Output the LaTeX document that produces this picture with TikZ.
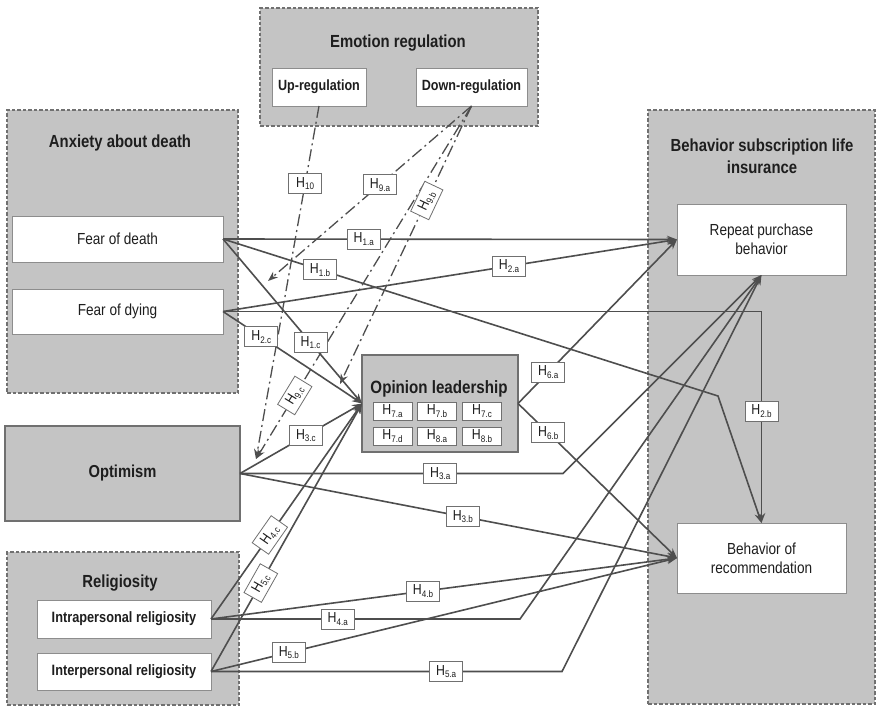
\documentclass[tikz,border=0pt]{standalone}
\usepackage{fontspec}
\setmainfont{Liberation Sans}[FakeStretch=0.85]
\usetikzlibrary{arrows.meta}
\definecolor{boxgray}{RGB}{196,196,196}
\definecolor{edgegray}{RGB}{112,112,112}
\definecolor{linegray}{RGB}{78,78,78}
\definecolor{txt}{RGB}{30,30,30}
\newcommand{\hyp}[1]{H\raisebox{-0.35ex}{\fontsize{9.5}{9.5}\selectfont #1}}
\begin{document}
\begin{tikzpicture}[x=1pt,y=-1pt,
  grp/.style={draw=edgegray, fill=boxgray, line width=1.6pt, dash pattern=on 3.5pt off 2pt, inner sep=0pt, outer sep=0pt},
  sbox/.style={draw=edgegray, fill=boxgray, line width=1.8pt, inner sep=0pt, outer sep=0pt, text=txt},
  wbox/.style={draw=edgegray!80, fill=white, line width=1pt, inner sep=0pt, outer sep=0pt, align=center, text=txt, font=\fontsize{16}{19}\selectfont},
  bwbox/.style={wbox, font=\bfseries\fontsize{15}{18}\selectfont},
  ttl/.style={font=\bfseries\fontsize{17.5}{22}\selectfont, align=center, text=txt, inner sep=0pt},
  lab/.style={draw=edgegray, fill=white, line width=0.8pt, inner sep=0pt, minimum width=33pt, minimum height=20pt, text=txt, font=\fontsize{14.5}{14.5}\selectfont},
  ilab/.style={lab, minimum width=39pt, minimum height=18pt},
  conn/.style={draw=linegray, line width=1.6pt, -{Stealth[length=10pt,width=7.5pt]}},
  mod/.style={draw=linegray, line width=1.3pt, dash pattern=on 12pt off 4pt on 2pt off 4pt, -{Stealth[length=10pt,width=7.5pt]}}
]
\useasboundingbox[fill=white] (0,0) rectangle (878,707);

% ---- groups ----
\node[grp, minimum width=278pt, minimum height=118pt] (erg) at (399,67) {};
\node[ttl] (ert) at (398,43) {Emotion regulation};
\node[bwbox, font=\bfseries\fontsize{14.8}{18}\selectfont, minimum width=94pt, minimum height=38pt] (ur) at (319,87) {Up-regulation};
\node[bwbox, font=\bfseries\fontsize{14.8}{18}\selectfont, minimum width=111pt, minimum height=38pt] (dr) at (471.5,87) {Down-regulation};

\node[grp, minimum width=231pt, minimum height=283pt] (adg) at (122.5,251.5) {};
\node[ttl] (adt) at (120,143) {Anxiety about death};
\node[wbox, minimum width=211pt, minimum height=46pt] (fdeath) at (117.5,239) {Fear of death};
\node[wbox, minimum width=211pt, minimum height=45pt] (fdying) at (117.5,311.5) {Fear of dying};

\node[sbox, minimum width=235pt, minimum height=95pt, font=\bfseries\fontsize{17.3}{20}\selectfont] (opt) at (122.5,473.5) {Optimism};

\node[grp, minimum width=232pt, minimum height=153pt] (rlg) at (123,628.5) {};
\node[ttl] (rlt) at (120,583) {Religiosity};
\node[bwbox, minimum width=174pt, minimum height=38pt] (intra) at (124,619) {Intrapersonal religiosity};
\node[bwbox, minimum width=174pt, minimum height=37pt] (inter) at (124,671.5) {Interpersonal religiosity};

\node[sbox, minimum width=156pt, minimum height=97pt] (ol) at (440,403.5) {};
\node[text=txt, inner sep=0pt, font=\bfseries\fontsize{17.8}{22}\selectfont] (olt) at (439,389) {Opinion leadership};
\node[ilab] (o7a) at (392.5,411) {\hyp{7.a}};
\node[ilab] (o7b) at (437,411) {\hyp{7.b}};
\node[ilab] (o7c) at (482,411) {\hyp{7.c}};
\node[ilab] (o7d) at (392.5,436) {\hyp{7.d}};
\node[ilab] (o8a) at (437,436) {\hyp{8.a}};
\node[ilab] (o8b) at (482,436) {\hyp{8.b}};

\node[grp, minimum width=227pt, minimum height=594pt] (bsg) at (761.5,407) {};
\node[ttl] (bst) at (762,156) {Behavior subscription life\\insurance};
\node[wbox, minimum width=169pt, minimum height=71pt] (rp) at (761.5,239.5) {Repeat purchase\\behavior};
\node[wbox, minimum width=169pt, minimum height=70pt] (br) at (761.5,558) {Behavior of\\recommendation};

% ---- coordinates ----
\coordinate (b1b) at (718,396);
\coordinate (c3a) at (563,473.5);
\coordinate (c4a) at (520,619);
\coordinate (c5a) at (562,671.5);
\coordinate (m9a) at (268,281);
\coordinate (m9b) at (340,384);
\coordinate (m3c) at (256,459);

% ---- connectors ----
\draw[conn] (fdeath.east) -- coordinate[pos=.31] (l1a) (rp.west);
\draw[conn] (fdeath.east) -- coordinate[pos=.196] (l1b) (b1b) -- (br.north);
\draw[conn] (fdeath.east) -- coordinate[pos=.63] (l1c) (ol.west);
\draw[conn] (fdying.east) -- coordinate[pos=.63] (l2a) (rp.west);
\draw[conn] (fdying.east) -- (fdying.east -| br.north) -- coordinate[pos=.47] (l2b) (br.north);
\draw[conn] (fdying.east) -- coordinate[pos=.275] (l2c) (ol.west);
\draw[conn] (opt.east) -- coordinate[pos=.62] (l3a) (c3a) -- (rp.south);
\draw[conn] (opt.east) -- coordinate[pos=.51] (l3b) (br.west);
\draw[conn] (opt.east) -- coordinate[pos=.54] (l3c) (ol.west);
\draw[conn] (intra.east) -- coordinate[pos=.41] (l4a) (c4a) -- (rp.south);
\draw[conn] (intra.east) -- coordinate[pos=.455] (l4b) (br.west);
\draw[conn] (intra.east) -- coordinate[pos=.39] (l4c) (ol.west);
\draw[conn] (inter.east) -- coordinate[pos=.67] (l5a) (c5a) -- (rp.south);
\draw[conn] (inter.east) -- coordinate[pos=.167] (l5b) (br.west);
\draw[conn] (inter.east) -- coordinate[pos=.33] (l5c) (ol.west);
\draw[conn] (ol.east) -- coordinate[pos=.19] (l6a) (rp.west);
\draw[conn] (ol.east) -- coordinate[pos=.19] (l6b) (br.west);
\draw[mod] (dr.south) -- coordinate[pos=.45] (l9a) (m9a);
\draw[mod] (dr.south) -- coordinate[pos=.34] (l9b) (m9b);
\draw[mod] (dr.south) -- coordinate[pos=.82] (l9c) (m3c);
\draw[mod] (ur.south) -- coordinate[pos=.22] (l10) (m3c);

% ---- labels ----
\node[lab] (h1a) at (l1a) {\hyp{1.a}};
\node[lab] (h1b) at (l1b) {\hyp{1.b}};
\node[lab] (h1c) at (l1c) {\hyp{1.c}};
\node[lab] (h2a) at (l2a) {\hyp{2.a}};
\node[lab] (h2b) at (l2b) {\hyp{2.b}};
\node[lab] (h2c) at (l2c) {\hyp{2.c}};
\node[lab] (h3a) at (l3a) {\hyp{3.a}};
\node[lab] (h3b) at (l3b) {\hyp{3.b}};
\node[lab] (h3c) at (l3c) {\hyp{3.c}};
\node[lab] (h4a) at (l4a) {\hyp{4.a}};
\node[lab] (h4b) at (l4b) {\hyp{4.b}};
\node[lab, rotate=55] (h4c) at (l4c) {\hyp{4.c}};
\node[lab] (h5a) at (l5a) {\hyp{5.a}};
\node[lab] (h5b) at (l5b) {\hyp{5.b}};
\node[lab, rotate=60.6] (h5c) at (l5c) {\hyp{5.c}};
\node[lab] (h6a) at (l6a) {\hyp{6.a}};
\node[lab] (h6b) at (l6b) {\hyp{6.b}};
\node[lab] (h9a) at (l9a) {\hyp{9.a}};
\node[lab, rotate=64.7] (h9b) at (l9b) {\hyp{9.b}};
\node[lab, rotate=58.6] (h9c) at (l9c) {\hyp{9.c}};
\node[lab] (h10) at (l10) {\hyp{10}};
\end{tikzpicture}
\end{document}
